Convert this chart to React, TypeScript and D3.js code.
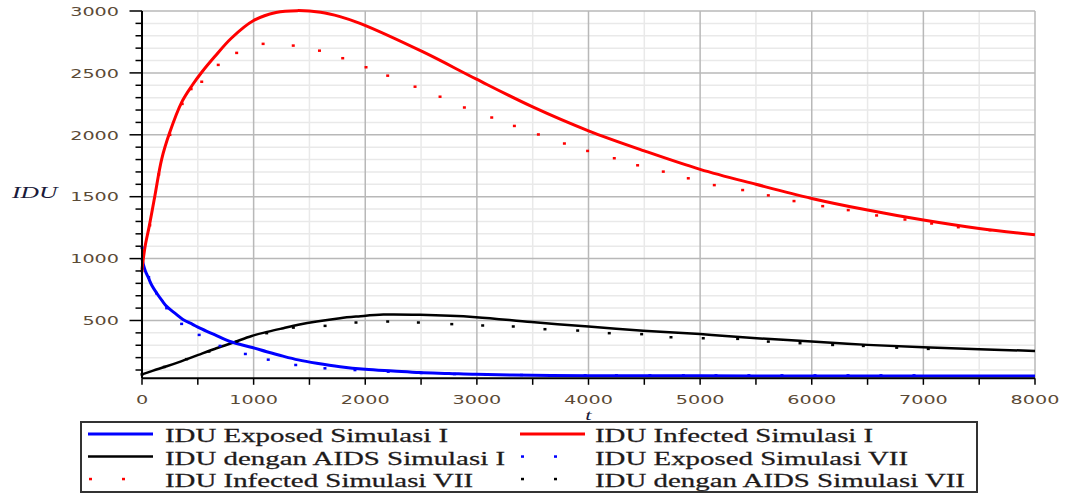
import React from 'react';
import * as d3 from 'd3';

// IDU Exposed Simulasi I (solid blue)
const exposed1T = [0, 10, 30, 57, 90, 131, 180, 221, 300, 370, 450, 519, 650, 788, 988, 1117, 1263, 1400, 1565, 1774, 2000, 2250, 2490, 2750, 2992, 3500, 4000, 5000, 6000, 7000, 8000];
const exposed1V = [1000, 960, 900, 846, 780, 722, 660, 614, 555, 506, 470, 438, 385, 330, 282, 248, 212, 182, 155, 127, 106, 92, 79, 72, 65, 58, 54, 53, 52, 52, 52];

// IDU Infected Simulasi I (solid red)
const infected1T = [0, 12, 30, 65, 116, 176, 245, 355, 450, 535, 650, 800, 1000, 1200, 1390, 1600, 1774, 1953, 2523, 2992, 3500, 4000, 4500, 5000, 5500, 6000, 6500, 7000, 7500, 8000];
const infected1V = [910, 1000, 1110, 1262, 1510, 1802, 2010, 2262, 2400, 2505, 2630, 2780, 2923, 2988, 3003, 2990, 2955, 2900, 2667, 2451, 2225, 2032, 1870, 1721, 1600, 1486, 1392, 1311, 1243, 1192];

// IDU dengan AIDS Simulasi I (solid black)
const aids1T = [0, 100, 221, 350, 505, 650, 818, 983, 1132, 1266, 1400, 1565, 1774, 1938, 2162, 2490, 2992, 3490, 4000, 4490, 5000, 5506, 6000, 6500, 7000, 7500, 8000];
const aids1V = [65, 95, 130, 170, 222, 270, 322, 375, 410, 438, 465, 492, 519, 533, 548, 546, 527, 487, 451, 417, 390, 357, 330, 303, 284, 268, 254];

// IDU Exposed Simulasi VII (blue points)
const exposed7T = [0, 60, 130, 221, 355, 512, 699, 926, 1131, 1377, 1639, 1908, 2206, 2500, 2800, 3080, 3400, 3700, 3970, 4250, 4550, 4850, 5142, 5437, 5733, 6029, 6325, 6620, 6916];
const exposed7V = [1090, 850, 720, 600, 473, 384, 295, 230, 184, 141, 114, 100, 87, 76, 68, 63, 60, 58, 57, 57, 57, 57, 57, 57, 57, 57, 57, 57, 57];

// IDU Infected Simulasi VII (red points)
const infected7T = [0, 70, 150, 250, 360, 440, 535, 683, 848, 1085, 1355, 1590, 1798, 2007, 2201, 2446, 2670, 2888, 3133, 3336, 3551, 3784, 3992, 4231, 4440, 4670, 4894, 5127, 5381, 5611, 5841, 6098, 6327, 6581, 6835, 7074, 7313, 7597];
const infected7V = [900, 1270, 1680, 2000, 2250, 2370, 2429, 2565, 2662, 2735, 2721, 2680, 2619, 2546, 2478, 2389, 2308, 2221, 2140, 2072, 2003, 1930, 1870, 1811, 1754, 1703, 1649, 1594, 1554, 1511, 1465, 1424, 1392, 1349, 1316, 1284, 1254, 1230];

// IDU dengan AIDS Simulasi VII (black points)
const aids7T = [0, 200, 400, 600, 850, 1117, 1356, 1640, 1917, 2201, 2476, 2775, 3052, 3326, 3610, 3903, 4186, 4476, 4739, 5028, 5336, 5611, 5895, 6187, 6462, 6761, 7044];
const aids7V = [65, 125, 188, 250, 330, 398, 443, 457, 484, 492, 484, 471, 460, 452, 430, 419, 398, 390, 365, 357, 352, 330, 317, 303, 295, 281, 271];

const xTickLabels = ['0', '1000', '2000', '3000', '4000', '5000', '6000', '7000', '8000'];
const yTickLabels = ['500', '1000', '1500', '2000', '2500', '3000'];

const legendLabels = [
  'IDU Exposed Simulasi I',
  'IDU Infected Simulasi I',
  'IDU dengan AIDS Simulasi I',
  'IDU Exposed Simulasi VII',
  'IDU Infected Simulasi VII',
  'IDU dengan AIDS Simulasi VII',
];
const legendColors = ['#0000ff', '#ff0000', '#000000', '#0000ff', '#ff0000', '#000000'];
const legendKinds = ['line', 'line', 'line', 'point', 'point', 'point'];

const zip = (ts: number[], vs: number[]) => ts.map((t, i) => [t, vs[i]] as [number, number]);

export default function App() {
  const width = 1066;
  const height = 498;
  const x = d3.scaleLinear().domain([0, 8000]).range([142, 1035]);
  const y = d3.scaleLinear().domain([33, 3000]).range([378.3, 11]);
  const stretch = 1.5;

  const line = d3.line<[number, number]>()
    .x(d => x(d[0]))
    .y(d => y(d[1]))
    .curve(d3.curveCatmullRom.alpha(0.5));

  const solids = [
    { data: zip(aids1T, aids1V), color: '#000000', w: 2.5 },
    { data: zip(exposed1T, exposed1V), color: '#0000ff', w: 3 },
    { data: zip(infected1T, infected1V), color: '#ff0000', w: 3 },
  ];
  const points = [
    { data: zip(aids7T, aids7V), color: '#000000' },
    { data: zip(exposed7T, exposed7V), color: '#0000ff' },
    { data: zip(infected7T, infected7V), color: '#ff0000' },
  ];

  const minorX = d3.range(500, 8000, 1000);
  const majorX = d3.range(1000, 8001, 1000);
  const minorY = d3.range(100, 3000, 100).filter(v => v % 500 !== 0);
  const majorY = d3.range(500, 3001, 500);
  const yTicks = d3.range(100, 3001, 100);
  const xTicks = d3.range(0, 8001, 500);

  const tickColor = '#5b4a36';
  const x0 = x.range()[0], x1 = x.range()[1];
  const yB = y.range()[0], yT = y.range()[1];

  // legend layout
  const legX = 81, legY = 422, legW = 896, legH = 70;
  const colSample = [88, 520];
  const colText = [165, 595];
  const rowBase = [442, 464.5, 487];

  return (
    <svg width={width} height={height} style={{ position: 'absolute', left: 0, top: 0, background: '#fff' }}>
      {/* grid */}
      {minorY.map(v => (
        <line key={'my' + v} x1={x0} x2={x1} y1={y(v)} y2={y(v)} stroke="#e9e9e9" strokeWidth={1.5} />
      ))}
      {minorX.map(v => (
        <line key={'mx' + v} x1={x(v)} x2={x(v)} y1={yB} y2={yT} stroke="#e9e9e9" strokeWidth={1.5} />
      ))}
      {majorY.map(v => (
        <line key={'My' + v} x1={x0} x2={x1} y1={y(v)} y2={y(v)} stroke="#b8b8b8" strokeWidth={1.5} />
      ))}
      {majorX.map(v => (
        <line key={'Mx' + v} x1={x(v)} x2={x(v)} y1={yB} y2={yT} stroke="#b8b8b8" strokeWidth={1.5} />
      ))}

      {/* curves */}
      {solids.map((s, i) => (
        <path key={'s' + i} d={line(s.data) || ''} fill="none" stroke={s.color} strokeWidth={s.w} />
      ))}
      {points.map((p, i) => (
        <g key={'p' + i} fill={p.color}>
          {p.data.map((d, j) => (
            <rect key={j} x={x(d[0]) - 1.5} y={y(d[1]) - 1.2} width={3} height={2.5} />
          ))}
        </g>
      ))}

      {/* axes */}
      <line x1={x0} x2={x0} y1={yT} y2={yB} stroke="#000" strokeWidth={2} />
      <line x1={x0} x2={x1} y1={yB} y2={yB} stroke="#000" strokeWidth={2} />
      {yTicks.map(v => (
        <line key={'yt' + v} x1={x0 - (v % 500 === 0 ? 12.5 : 6.5)} x2={x0} y1={y(v)} y2={y(v)} stroke="#000" strokeWidth={1.5} />
      ))}
      {xTicks.map(v => (
        <line key={'xt' + v} x1={x(v)} x2={x(v)} y1={yB} y2={yB + 6.5} stroke="#000" strokeWidth={1.5} />
      ))}
      {yTickLabels.map(l => (
        <text key={'yl' + l} transform={`translate(119,${y(+l) + 4.8}) scale(${stretch},1)`} textAnchor="end"
          fontFamily="DejaVu Sans" fontSize={12.8} fill={tickColor}>{l}</text>
      ))}
      {xTickLabels.map(l => (
        <text key={'xl' + l} transform={`translate(${x(+l)},404) scale(${stretch},1)`} textAnchor="middle"
          fontFamily="DejaVu Sans" fontSize={12.8} fill={tickColor}>{l}</text>
      ))}
      <text transform={`translate(${(x0 + x1) / 2},420) scale(${stretch},1)`} textAnchor="middle"
        fontFamily="Liberation Serif" fontStyle="italic" fontSize={15} fill="#1a1a3a">t</text>
      <text transform={`translate(12,198) scale(${stretch},1)`} fontFamily="Liberation Serif" fontStyle="italic"
        fontSize={17} fill="#1a1a3a">IDU</text>

      {/* legend */}
      <rect x={legX} y={legY} width={legW} height={legH} fill="#fff" stroke="#333" strokeWidth={2} />
      {legendLabels.map((label, i) => {
        const col = i % 2;
        const row = Math.floor(i / 2);
        const by = rowBase[row];
        const sy = by - 8;
        const sx = colSample[col];
        return (
          <g key={'lg' + i}>
            {legendKinds[i] === 'line' ? (
              <line x1={sx} x2={sx + 65} y1={sy} y2={sy} stroke={legendColors[i]} strokeWidth={legendColors[i] === '#000000' ? 2.5 : 3} />
            ) : (
              <g fill={legendColors[i]}>
                <rect x={sx + 1} y={sy - 1.2} width={3} height={2.5} />
                <rect x={sx + 34} y={sy - 1.2} width={3} height={2.5} />
              </g>
            )}
            <text transform={`translate(${colText[col]},${by}) scale(1.52,1)`} fontFamily="Liberation Serif"
              fontSize={19} fill="#1e1a1a" stroke="#1e1a1a" strokeWidth={0.25}>{label}</text>
          </g>
        );
      })}
    </svg>
  );
}
